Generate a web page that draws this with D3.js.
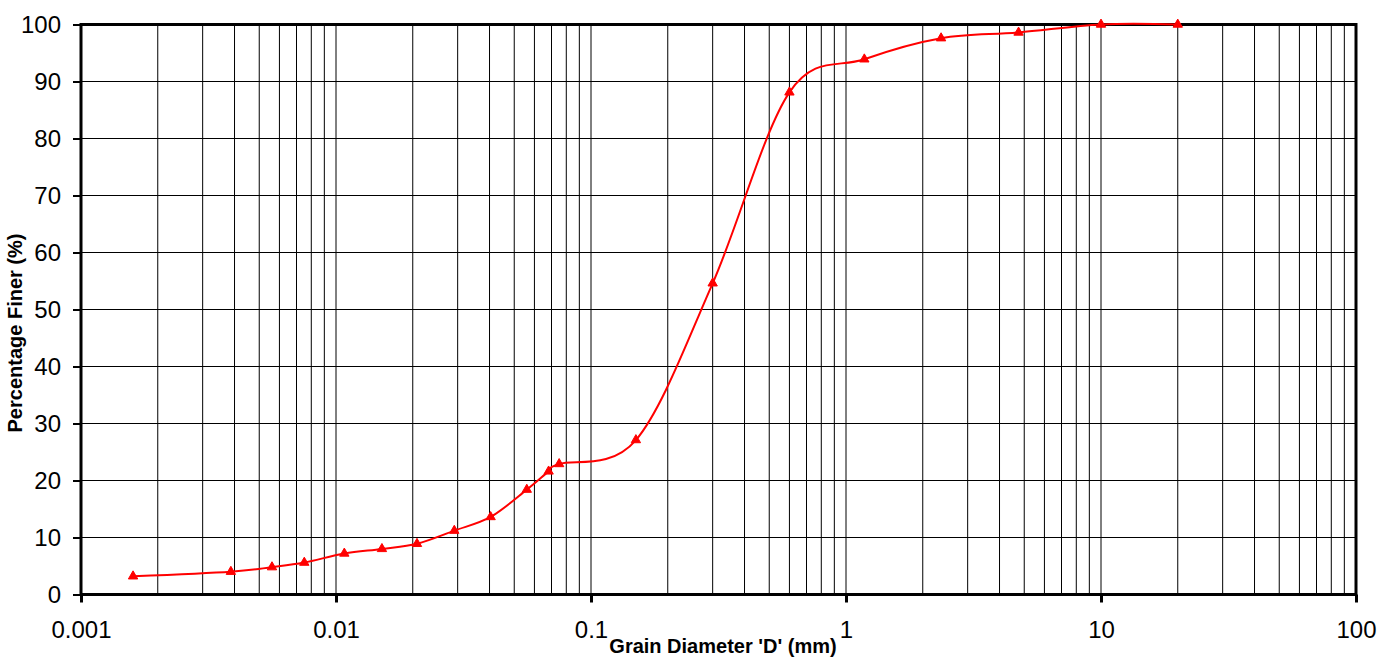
<!DOCTYPE html>
<html>
<head>
<meta charset="utf-8">
<script src="https://cdn.jsdelivr.net/npm/d3@7"></script>
<style>
  html, body { margin: 0; padding: 0; background: #fff; }
  svg { display: block; font-family: Arial, "Liberation Sans", sans-serif; }
</style>
</head>
<body>
<svg id="chart" width="1393" height="657"></svg>
<script>
// Grain size distribution (hydrometer + sieve analysis)
const grainDiameter = [0.0016, 0.00387, 0.00561, 0.00751, 0.01078, 0.01514, 0.02078, 0.0291, 0.0404, 0.056, 0.0682, 0.075, 0.15, 0.3, 0.6, 1.18, 2.36, 4.75, 10, 20];
const percentFiner  = [3.2, 4.0, 4.8, 5.6, 7.2, 8.0, 8.9, 11.2, 13.6, 18.4, 21.6, 22.9, 27.1, 54.6, 88.1, 93.9, 97.6, 98.6, 100, 100];

const xTickValues = [0.001, 0.01, 0.1, 1, 10, 100];
const xTickLabels = ["0.001", "0.01", "0.1", "1", "10", "100"];
const yTickValues = [0, 10, 20, 30, 40, 50, 60, 70, 80, 90, 100];

const width = 1393, height = 657;
const margin = { top: 24.5, right: 37, bottom: 62.5, left: 81 };
const x0 = margin.left, x1 = width - margin.right;
const y0 = height - margin.bottom, y1 = margin.top;

const svg = d3.select("#chart");

const x = d3.scaleLog().domain([0.001, 100]).range([x0, x1]);
const y = d3.scaleLinear().domain([0, 100]).range([y0, y1]);

// minor log grid: 1..9 within each decade
const vGrid = [];
for (let e = -3; e < 2; e++) {
  for (let m = 1; m <= 9; m++) vGrid.push(m * Math.pow(10, e));
}
vGrid.push(100);

const grid = svg.append("g").attr("class", "grid");
grid.selectAll("line.v").data(vGrid).join("line")
  .attr("class", "v")
  .attr("x1", d => x(d)).attr("x2", d => x(d))
  .attr("y1", y1).attr("y2", y0)
  .attr("stroke", "#000").attr("stroke-width", 1);

grid.selectAll("line.h").data(yTickValues).join("line")
  .attr("class", "h")
  .attr("x1", x0).attr("x2", x1)
  .attr("y1", d => y(d)).attr("y2", d => y(d))
  .attr("stroke", "#000").attr("stroke-width", 1);

// frame: heavy border around the plot area
svg.append("rect")
  .attr("x", x0).attr("y", y1)
  .attr("width", x1 - x0).attr("height", y0 - y1)
  .attr("fill", "none").attr("stroke", "#000").attr("stroke-width", 3);

// y axis
const yAxis = d3.axisLeft(y).tickValues(yTickValues).tickSize(8).tickPadding(12);
const gy = svg.append("g").attr("transform", `translate(${x0},0)`).call(yAxis);
gy.select(".domain").remove();
gy.selectAll(".tick line").attr("stroke", "#000").attr("stroke-width", 2);
gy.selectAll(".tick text")
  .attr("font-size", 24).attr("fill", "#000")
  .attr("font-family", "Arial, 'Liberation Sans', sans-serif");

// x axis
const xAxis = d3.axisBottom(x).tickValues(xTickValues)
  .tickFormat((d, i) => xTickLabels[i]).tickSize(8).tickPadding(18);
const gx = svg.append("g").attr("transform", `translate(0,${y0})`).call(xAxis);
gx.select(".domain").remove();
gx.selectAll(".tick line").attr("stroke", "#000").attr("stroke-width", 3);
gx.selectAll(".tick text")
  .attr("font-size", 24).attr("fill", "#000")
  .attr("font-family", "Arial, 'Liberation Sans', sans-serif");

// axis titles
svg.append("text")
  .attr("x", 723).attr("y", 653)
  .attr("text-anchor", "middle")
  .attr("font-size", 20).attr("font-weight", "bold")
  .text("Grain Diameter 'D' (mm)");

svg.append("text")
  .attr("transform", "translate(22,333) rotate(-90)")
  .attr("text-anchor", "middle")
  .attr("font-size", 20).attr("font-weight", "bold")
  .text("Percentage Finer (%)");

// smoothed gradation curve
const pts = grainDiameter.map((d, i) => [d, percentFiner[i]]);
const line = d3.line()
  .x(d => x(d[0])).y(d => y(d[1]))
  .curve(d3.curveCardinal.tension(0));

svg.append("path")
  .datum(pts)
  .attr("d", line)
  .attr("fill", "none")
  .attr("stroke", "#ff0000")
  .attr("stroke-width", 2);

// triangle markers
const tri = d3.symbol().type(d3.symbolTriangle).size(38);
svg.append("g").selectAll("path").data(pts).join("path")
  .attr("transform", d => `translate(${x(d[0])},${y(d[1])})`)
  .attr("d", tri)
  .attr("fill", "#ff0000")
  .attr("stroke", "#ff0000")
  .attr("stroke-width", 1);
</script>
</body>
</html>
